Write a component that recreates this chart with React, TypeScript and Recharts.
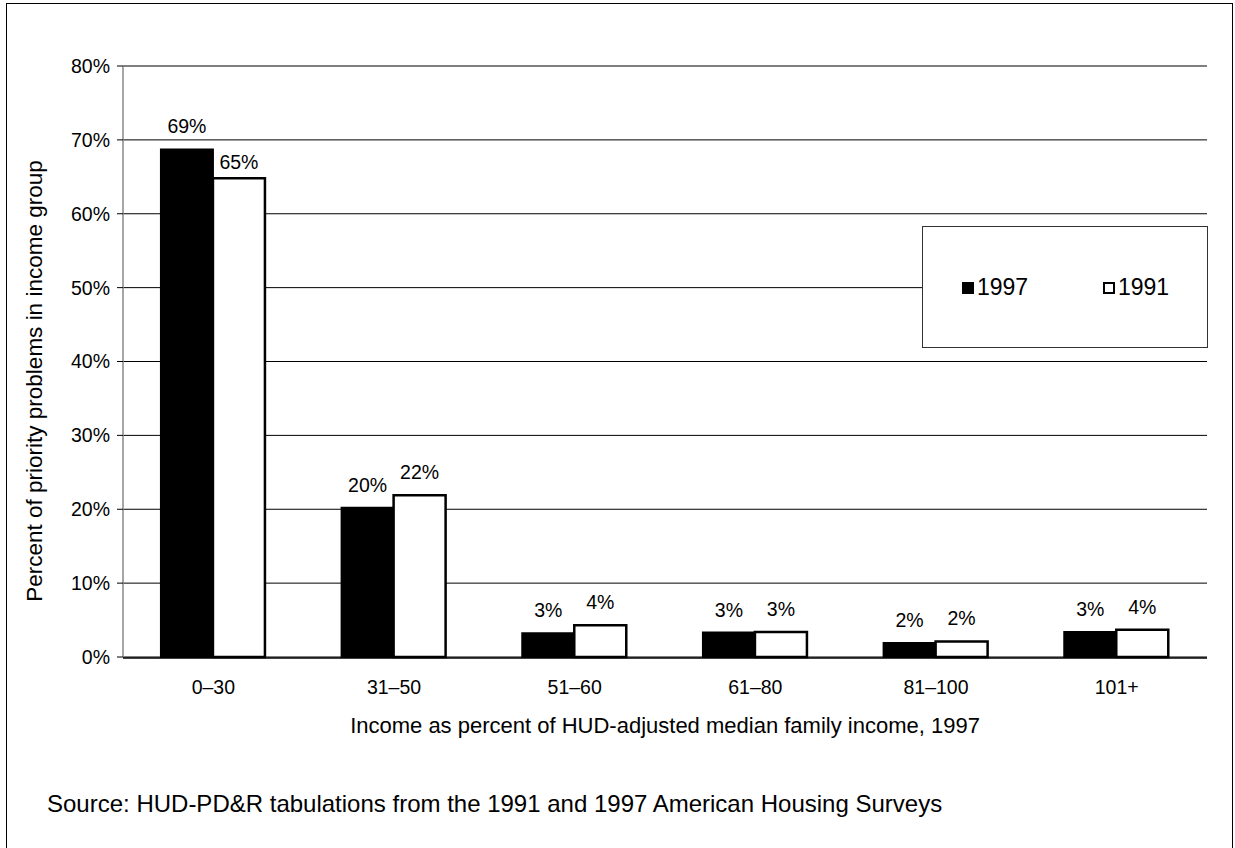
import React from 'react';
import { BarChart, Bar, XAxis, YAxis, CartesianGrid, Legend } from 'recharts';

const categories = ['0–30', '31–50', '51–60', '61–80', '81–100', '101+'];
const values1997 = [68.7, 20.2, 3.2, 3.3, 1.9, 3.4];
const values1991 = [64.8, 21.9, 4.3, 3.4, 2.1, 3.7];
const yTicks = [0, 10, 20, 30, 40, 50, 60, 70, 80];
const boundaryTicks = [0, 1, 2, 3, 4, 5, 6];

const seriesNames = ['1997', '1991'];
const yTitle = 'Percent of priority problems in income group';
const xTitle = 'Income as percent of HUD-adjusted median family income, 1997';
const sourceText = 'Source: HUD-PD&R tabulations from the 1991 and 1997 American Housing Surveys';

const data = categories.map((c, i) => ({
  cat: c,
  idx: i,
  v1997: values1997[i],
  v1991: values1991[i],
}));

const FONT = '"Liberation Sans", Arial, sans-serif';

const makeLabel = (special: number | null) => (props: any) => {
  const { x, y, width, value, index } = props;
  const off = special !== null && index === special ? 9 : 16;
  return (
    <text
      x={x + width / 2}
      y={y - off}
      textAnchor="middle"
      fontFamily={FONT}
      fontSize={19.5}
      fill="#000"
    >
      {Math.round(value)}%
    </text>
  );
};

const renderLegend = (props: any) => {
  const payload = [...(props.payload || [])].sort(
    (a: any, b: any) => seriesNames.indexOf(String(a.value)) - seriesNames.indexOf(String(b.value))
  );
  return (
    <div
      style={{
        width: 286,
        height: 122,
        boxSizing: 'border-box',
        border: '1px solid #333',
        background: '#fff',
        position: 'relative',
        fontFamily: FONT,
        fontSize: 23,
      }}
    >
      {payload.map((p: any, i: number) => (
        <div
          key={i}
          style={{
            position: 'absolute',
            left: i === 0 ? 39 : 180,
            top: 49,
            display: 'flex',
            alignItems: 'center',
            height: 23,
          }}
        >
          <span
            style={{
              display: 'inline-block',
              width: 12,
              height: 12,
              boxSizing: 'border-box',
              background: p.color,
              border: '2px solid #000',
              marginRight: 3,
            }}
          />
          <span style={{ lineHeight: '23px' }}>{p.value}</span>
        </div>
      ))}
    </div>
  );
};

export default function App() {
  return (
    <div
      style={{
        position: 'absolute',
        left: 0,
        top: 0,
        width: 1235,
        height: 848,
        overflow: 'hidden',
        background: '#fff',
        fontFamily: FONT,
      }}
    >
      <div
        style={{
          position: 'absolute',
          left: 6,
          top: 3,
          width: 1227,
          height: 880,
          boxSizing: 'border-box',
          border: '1.5px solid #000',
        }}
      />
      <div style={{ position: 'absolute', left: 0, top: 0 }}>
        <BarChart
          width={1235}
          height={848}
          data={data}
          margin={{ top: 66, right: 28, left: 23, bottom: 189 }}
          barCategoryGap="21%"
          barGap={0}
        >
          <CartesianGrid vertical={false} stroke="#000" strokeWidth={1} />
          <XAxis
            xAxisId="ticks"
            type="number"
            dataKey="idx"
            domain={[0, 6]}
            ticks={boundaryTicks}
            allowDataOverflow
            tick={false}
            tickSize={8}
            height={1}
            axisLine={{ stroke: '#000', strokeWidth: 1.5 }}
            tickLine={{ stroke: '#000', strokeWidth: 1 }}
          />
          <XAxis
            xAxisId="cat"
            dataKey="cat"
            type="category"
            height={1}
            axisLine={false}
            tickLine={false}
            tickSize={0}
            tickMargin={23}
            interval={0}
            tick={{ fill: '#000', fontSize: 19.5, fontFamily: FONT }}
          />
          <YAxis
            domain={[0, 80]}
            ticks={yTicks}
            width={100}
            tickSize={6}
            tickMargin={7}
            interval={0}
            tickFormatter={(v: number) => `${v}%`}
            axisLine={{ stroke: '#888', strokeWidth: 1.5 }}
            tickLine={{ stroke: '#000', strokeWidth: 1 }}
            tick={{ fill: '#000', fontSize: 19.5, fontFamily: FONT }}
          />
          <Legend
            layout="horizontal"
            verticalAlign="middle"
            align="center"
            content={renderLegend}
            wrapperStyle={{ position: 'absolute', left: 922, top: 226, width: 286, height: 122 }}
          />
          <Bar
            xAxisId="cat"
            dataKey="v1997"
            name={seriesNames[0]}
            fill="#000"
            stroke="#000"
            strokeWidth={2}
            isAnimationActive={false}
            label={makeLabel(null)}
          />
          <Bar
            xAxisId="cat"
            dataKey="v1991"
            name={seriesNames[1]}
            fill="#fff"
            stroke="#000"
            strokeWidth={2.5}
            isAnimationActive={false}
            label={makeLabel(0)}
          />
        </BarChart>
      </div>
      <div
        style={{
          position: 'absolute',
          left: 35 - 300,
          top: 381 - 11,
          width: 600,
          height: 22,
          lineHeight: '22px',
          fontSize: 22.5,
          textAlign: 'center',
          transform: 'rotate(-90deg)',
          transformOrigin: 'center',
          whiteSpace: 'nowrap',
          color: '#000',
        }}
      >
        {yTitle}
      </div>
      <div
        style={{
          position: 'absolute',
          left: 665 - 400,
          top: 715,
          width: 800,
          lineHeight: '22px',
          fontSize: 22,
          textAlign: 'center',
          whiteSpace: 'nowrap',
          color: '#000',
        }}
      >
        {xTitle}
      </div>
      <div
        style={{
          position: 'absolute',
          left: 47,
          top: 793,
          lineHeight: '22px',
          fontSize: 24,
          whiteSpace: 'nowrap',
          color: '#000',
        }}
      >
        {sourceText}
      </div>
    </div>
  );
}
